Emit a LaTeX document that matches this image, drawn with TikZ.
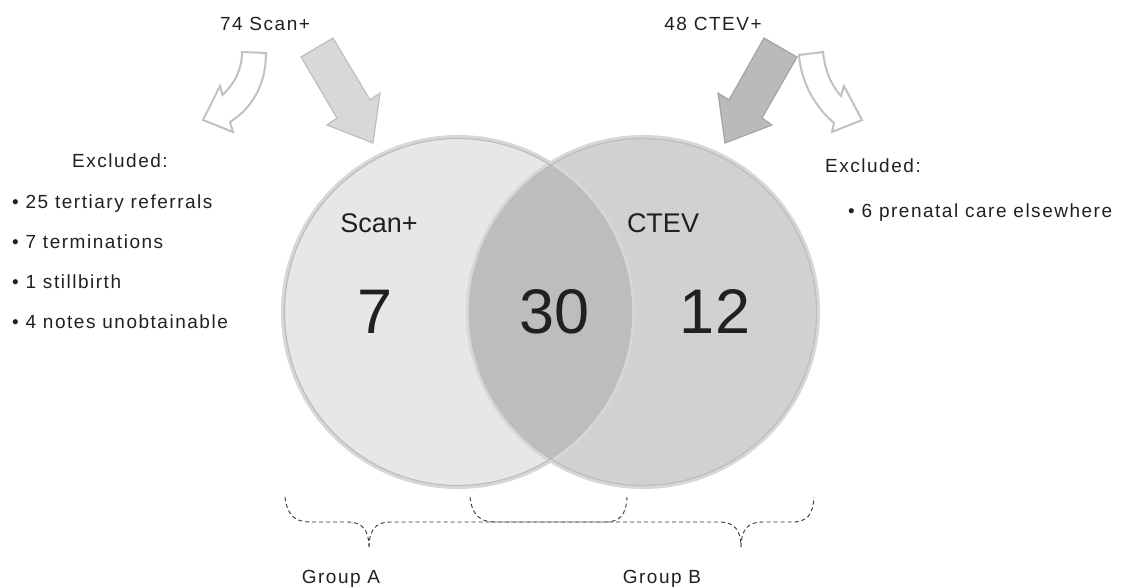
\documentclass[tikz,border=0pt]{standalone}
\usepackage{fontspec}
\setmainfont[LetterSpace=8]{Liberation Sans}
\newfontfamily\plainfont{Liberation Sans}
\definecolor{setA}{RGB}{230,231,232}
\definecolor{setB}{RGB}{208,209,211}
\definecolor{setAB}{RGB}{188,189,191}
\definecolor{ringlight}{RGB}{214,215,217}
\definecolor{ringdark}{RGB}{188,189,191}
\definecolor{arrowA}{RGB}{215,216,218}
\definecolor{arrowB}{RGB}{185,186,188}
\definecolor{textcol}{RGB}{35,31,32}

\begin{document}
\begin{tikzpicture}[x=1pt, y=-1pt, every node/.style={inner sep=0pt, text=textcol, font=\fontsize{19}{23}\selectfont}, setlabel/.style={font=\plainfont\fontsize{27}{30}\selectfont}, count/.style={font=\plainfont\fontsize{63}{70}\selectfont}, exarrow/.style={draw=ringlight!90!black, line width=2pt, fill=white}, inarrow/.style={line width=1.2pt}, brace/.style={draw=black!80, line width=0.9pt, dash pattern=on 4pt off 3pt}]
\useasboundingbox (0,0) rectangle (1121,588);

% Circles
\coordinate (A) at (458,312);
\coordinate (B) at (643,312);
\fill[setA] (A) circle (176);
\fill[setB] (B) circle (176);
\begin{scope}
\clip (A) circle (176);
\fill[setAB] (B) circle (176);
\end{scope}
\draw[ringlight, line width=3pt] (A) circle (175.5) (B) circle (175.5);
\draw[ringdark, line width=1.2pt] (A) circle (173.5) (B) circle (173.5);

%Arrows
\draw[exarrow] (242,52) -- (266,53) .. controls (266,85) and (252,108) .. (230,122) -- (233,132) -- (203,120) -- (220,86) -- (222.5,95) .. controls (236,82) and (242,68) .. cycle;
\draw[exarrow] (799,55) -- (823,52) .. controls (825,72) and (832,86) .. (841,96) -- (844,86) -- (862,120) -- (832,132) -- (834,123) .. controls (815,107) and (801,82) .. cycle;
\draw[inarrow, draw=arrowA!88!black, fill=arrowA] (301,57) -- (333,38) -- (370,100) -- (380,93) -- (373,143) -- (327,125) -- (337,118) -- cycle;
\draw[inarrow, draw=arrowB!88!black, fill=arrowB] (797,57) -- (764,38) -- (729,100) -- (718,93) -- (725,143) -- (772,125) -- (762,118) -- cycle;

% Labels
\node[anchor=base] (in1) at (265,31) {74 Scan+};
\node[anchor=base] (in2) at (713,31) {48 CTEV+};
\node[anchor=base west] (ex1) at (72,168) {Excluded:};
\node[anchor=base west] (r1) at (12,208) {• 25 tertiary referrals};
\node[anchor=base west] (r2) at (12,248) {• 7 terminations};
\node[anchor=base west] (r3) at (12,288) {• 1 stillbirth};
\node[anchor=base west] (r4) at (12,328) {• 4 notes unobtainable};
\node[anchor=base west] (ex2) at (825,173) {Excluded:};
\node[anchor=base west] (r5) at (848,217) {• 6 prenatal care elsewhere};
\node[setlabel, anchor=base] (scan) at (379,233) {Scan+};
\node[setlabel, anchor=base] (ctev) at (663,233) {CTEV};
\node[count, anchor=base] (n7) at (375,333) {7};
\node[count, anchor=base] (n30) at (555,333) {30};
\node[count, anchor=base] (n12) at (715,333) {12};

%Braces
\coordinate (tipA) at (369,547);
\coordinate (tipB) at (741,547);
\draw[brace] (285,497) .. controls (287,515) and (295,522) .. (310,522) -- (348,522) .. controls (362,522) and (369,530) .. (tipA);
\draw[brace] (tipA) .. controls (369,530) and (376,522) .. (390,522) -- (605,522) .. controls (620,522) and (626,515) .. (627,497);
\draw[brace] (470,497) .. controls (472,515) and (480,522) .. (495,522) -- (720,522) .. controls (734,522) and (741,530) .. (tipB);
\draw[brace] (tipB) .. controls (741,530) and (748,522) .. (762,522) -- (792,522) .. controls (807,522) and (813,515) .. (814,497);
\node[anchor=base] (ga) at (341,583) {Group A};
\node[anchor=base] (gb) at (662,583) {Group B};
\end{tikzpicture}
\end{document}
